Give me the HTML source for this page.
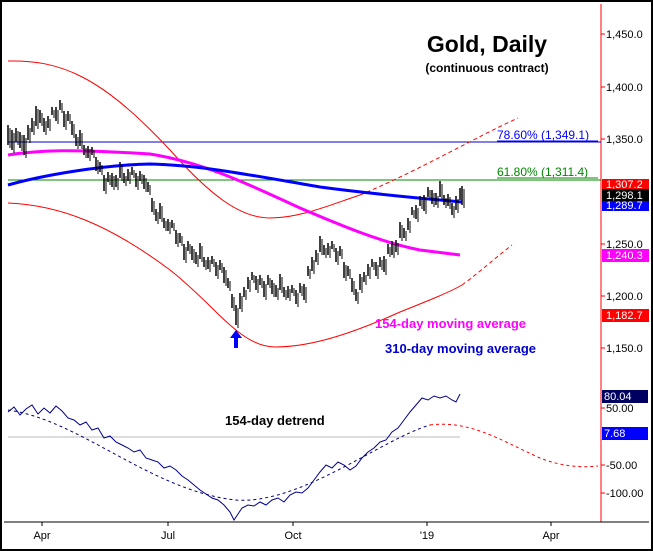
<!DOCTYPE html>
<html><head><style>
body{margin:0;background:#fff;}
svg{display:block;font-family:"Liberation Sans",Arial,sans-serif;}
</style></head><body>
<svg width="653" height="551" viewBox="0 0 653 551" xmlns="http://www.w3.org/2000/svg">
<rect x="1" y="1" width="651" height="549" fill="#fff" stroke="#000" stroke-width="2"/>
<line x1="601" y1="4" x2="601" y2="522" stroke="#f00" stroke-width="1"/>
<line x1="4" y1="522" x2="649" y2="522" stroke="#000" stroke-width="1"/>
<g stroke="#000" stroke-width="1">
<line x1="42" y1="522" x2="42" y2="526"/><line x1="168" y1="522" x2="168" y2="526"/>
<line x1="293" y1="522" x2="293" y2="526"/><line x1="427" y1="522" x2="427" y2="526"/>
<line x1="551" y1="522" x2="551" y2="526"/>
</g>
<g font-size="11" fill="#000" text-anchor="middle">
<text x="42" y="539">Apr</text><text x="168" y="539">Jul</text><text x="293" y="539">Oct</text><text x="427" y="539">'19</text><text x="551" y="539">Apr</text>
</g>
<g font-size="11" fill="#000" stroke="#f00">
<line x1="601" y1="34" x2="605" y2="34"/><text x="606" y="38" stroke="none">1,450.0</text>
<line x1="601" y1="87" x2="605" y2="87"/><text x="606" y="91" stroke="none">1,400.0</text>
<line x1="601" y1="139" x2="605" y2="139"/><text x="606" y="143" stroke="none">1,350.0</text>
<line x1="601" y1="244" x2="605" y2="244"/><text x="606" y="248" stroke="none">1,250.0</text>
<line x1="601" y1="296" x2="605" y2="296"/><text x="606" y="300" stroke="none">1,200.0</text>
<line x1="601" y1="348" x2="605" y2="348"/><text x="606" y="352" stroke="none">1,150.0</text>
<line x1="601" y1="408" x2="605" y2="408"/><text x="606" y="412" stroke="none">50.00</text>
<line x1="601" y1="465" x2="605" y2="465"/><text x="606" y="469" stroke="none">-50.00</text>
<line x1="601" y1="493" x2="605" y2="493"/><text x="606" y="497" stroke="none">-100.00</text>
</g>
<line x1="8" y1="142" x2="601" y2="142" stroke="#00c" stroke-width="1"/>
<line x1="8" y1="180" x2="601" y2="180" stroke="#080" stroke-width="1"/>
<line x1="8" y1="437" x2="460" y2="437" stroke="#bbb" stroke-width="1"/>
<path d="M8,61 C60,60 100,75 170,150 C210,195 240,218 270,218 C300,218 330,205 360,195" fill="none" stroke="#f00"/>
<path d="M360,195 C420,170 470,140 518,118" fill="none" stroke="#f00" stroke-dasharray="4,3"/>
<path d="M8,203 C60,205 110,225 170,270 C215,305 240,347 275,347 C315,347 360,330 400,312 C430,300 450,292 462,285" fill="none" stroke="#f00"/>
<path d="M462,285 C480,272 495,258 512,245" fill="none" stroke="#f00" stroke-dasharray="4,3"/>
<path d="M8,155 C40,150 70,149 150,154 C200,162 240,180 300,208 C340,225 380,242 420,250 L460,255" fill="none" stroke="#f0f" stroke-width="3"/>
<path d="M8,185 C40,176 100,165 150,164 C200,165 250,175 320,187 C380,195 430,199 462,202" fill="none" stroke="#00f" stroke-width="3"/>
<g fill="none" stroke="#000" stroke-width="1.5">
<path id="bp" d="M8,125V145M12,130V150M16,128V142M20,132V148M24,135V155M28,125V140M32,118V132M36,106V126M40,110V123M44,118V132M48,116V128M52,107V115M56,107V121M60,100V110M64,111V127M68,111V121M72,121V135M76,134V146M80,130V146M84,145V155M88,146V158M92,147V155M96,157V171M100,162V172M104,175V191M108,172V182M112,173V187M116,175V187M120,162V178M124,173V183M128,169V181M132,167V175M136,173V187M140,171V181M144,175V189M148,182V192M152,198V212M156,209V221M160,203V219M164,218V228M168,219V231M172,220V228M176,230V244M180,233V243M184,244V260M188,241V251M192,246V260M196,252V264M200,243V259M204,257V267M208,257V269M212,256V264M216,262V276M220,260V270M224,267V283M228,278V288M232,294V308M236,305V325M240,293V309M244,287V297M248,277V289M252,272V280M256,276V290M260,275V285M264,281V297M268,275V285M272,280V294M276,285V297M280,274V290M284,287V297M288,286V298M292,285V293M296,290V304M300,283V293M304,284V300M308,266V276M312,257V271M316,250V262M320,236V252M324,245V255M328,243V255M332,241V249M336,248V262M340,246V256M344,262V278M348,266V276M352,278V292M356,289V301M360,274V290M364,272V282M368,264V276M372,259V267M376,262V276M380,257V267M384,256V272M388,244V254M392,241V255M396,240V252M400,222V238M404,228V238M408,218V230M412,207V215M416,205V219M420,196V206M424,195V211M428,187V197M432,190V204M436,193V205M440,181V197M444,195V205M448,194V206M452,203V215M456,196V210M460,188V200M462,186V205"/>
<use href="#bp" transform="translate(2,3)" stroke-width="1"/>
</g>
<path d="M8,410 C80,420 150,490 235,500 C300,505 380,440 430,425" fill="none" stroke="#000080" stroke-dasharray="3,3"/>
<path d="M430,425 C470,420 500,440 540,458 C560,466 580,468 598,466" fill="none" stroke="#f00" stroke-dasharray="3,3"/>
<polyline fill="none" stroke="#00008b" stroke-width="1" points="8,412 14,407 20,415 26,409 32,405 38,414 44,408 50,413 56,406 62,411 68,418 74,420 80,425 86,422 92,430 98,428 104,438 110,436 116,442 122,445 128,448 134,452 140,450 146,458 152,460 158,462 164,468 170,466 176,470 182,476 188,480 194,485 200,490 206,494 212,498 218,500 224,505 230,512 234,520 238,514 242,508 248,505 254,506 260,502 266,505 272,500 278,498 284,502 290,495 296,492 302,493 308,488 314,480 320,472 326,465 332,468 338,462 344,465 350,470 356,466 362,458 368,452 374,448 380,442 386,440 392,432 398,428 404,420 410,412 416,405 422,398 428,400 434,396 440,398 446,396 452,400 456,402 460,394"/>
<text x="487" y="52" font-size="23" font-weight="bold" text-anchor="middle">Gold, Daily</text>
<text x="487" y="72" font-size="12" font-weight="bold" text-anchor="middle">(continuous contract)</text>
<text x="497" y="139" font-size="12" fill="#00f">78.60% (1,349.1)</text>
<line x1="497" y1="141" x2="598" y2="141" stroke="#00f"/>
<text x="497" y="176" font-size="12" fill="#080">61.80% (1,311.4)</text>
<line x1="497" y1="178" x2="598" y2="178" stroke="#080"/>
<text x="375" y="328" font-size="13" font-weight="bold" fill="#f0f">154-day moving average</text>
<text x="385" y="353" font-size="13" font-weight="bold" fill="#00c">310-day moving average</text>
<text x="225" y="425" font-size="13" font-weight="bold">154-day detrend</text>
<path d="M236,330 L230,338 L234,338 L234,348 L238,348 L238,338 L242,338 Z" fill="#00f"/>
<g font-size="11" fill="#fff">
<rect x="602" y="179" width="47" height="11" fill="#f00"/><text x="606" y="188">1,307.2</text>
<rect x="602" y="200" width="47" height="11" fill="#00f"/><text x="606" y="209">1,289.7</text>
<rect x="602" y="189" width="47" height="12" fill="#000"/><text x="606" y="199">1,298.1</text>
<rect x="602" y="249" width="47" height="13" fill="#f0f"/><text x="606" y="259">1,240.3</text>
<rect x="602" y="309" width="47" height="13" fill="#f00"/><text x="606" y="319">1,182.7</text>
<rect x="602" y="390" width="46" height="13" fill="#000060"/><text x="604" y="400">80.04</text>
<rect x="602" y="427" width="46" height="13" fill="#00f"/><text x="604" y="437">7.68</text>
</g>
</svg>
</body></html>
